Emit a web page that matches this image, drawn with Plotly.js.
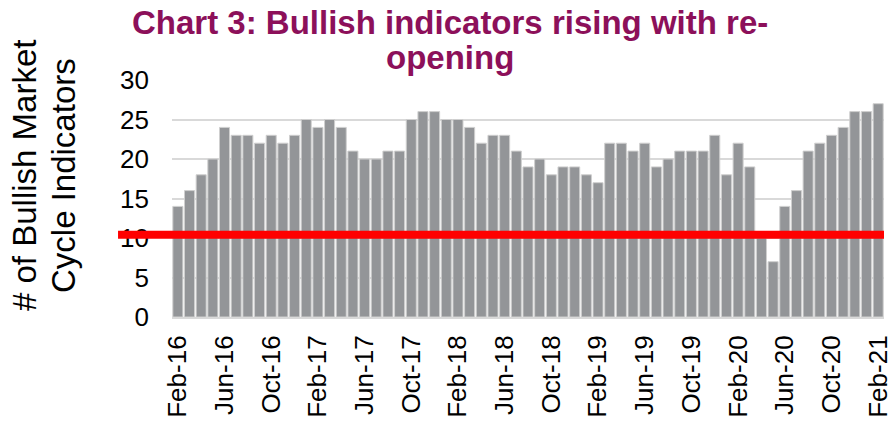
<!DOCTYPE html>
<html>
<head>
<meta charset="utf-8">
<script src="https://cdn.plot.ly/plotly-3.0.1.min.js"></script>
<style>html,body{margin:0;padding:0;background:#fff;}#chart{width:889px;height:426px;}</style>
</head>
<body>
<div id="chart"></div>
<script>
const months = [
 "Feb-16","Mar-16","Apr-16","May-16","Jun-16","Jul-16","Aug-16","Sep-16","Oct-16","Nov-16","Dec-16",
 "Jan-17","Feb-17","Mar-17","Apr-17","May-17","Jun-17","Jul-17","Aug-17","Sep-17","Oct-17","Nov-17","Dec-17",
 "Jan-18","Feb-18","Mar-18","Apr-18","May-18","Jun-18","Jul-18","Aug-18","Sep-18","Oct-18","Nov-18","Dec-18",
 "Jan-19","Feb-19","Mar-19","Apr-19","May-19","Jun-19","Jul-19","Aug-19","Sep-19","Oct-19","Nov-19","Dec-19",
 "Jan-20","Feb-20","Mar-20","Apr-20","May-20","Jun-20","Jul-20","Aug-20","Sep-20","Oct-20","Nov-20","Dec-20",
 "Jan-21","Feb-21"
];
const indicators = [
 14,16,18,20,24,23,23,22,23,22,23,
 25,24,25,24,21,20,20,21,21,25,26,26,
 25,25,24,22,23,23,21,19,20,18,19,19,
 18,17,22,22,21,22,19,20,21,21,21,23,
 18,22,19,10,7,14,16,21,22,23,24,26,
 26,27
];
const tickLabels = ["Feb-16","Jun-16","Oct-16","Feb-17","Jun-17","Oct-17","Feb-18","Jun-18","Oct-18","Feb-19","Jun-19","Oct-19","Feb-20","Jun-20","Oct-20","Feb-21"];
const yTicks = [0,5,10,15,20,25,30];
const thresholdValue = 10.4;
const titleLines = ["Chart 3: Bullish indicators rising with re-", "opening"];
const yTitleLines = ["# of Bullish Market", "Cycle Indicators"];

const font = "Liberation Sans, Arial, sans-serif";
const titleColor = "#8c105a";
const data = [{
  type: "bar",
  x: months,
  y: indicators,
  marker: {color: "#939598", line: {color: "#cfcfcf", width: 1}},
  hoverinfo: "x+y"
}];
const layout = {
  width: 889, height: 426,
  margin: {l: 172, r: 5, t: 80, b: 109},
  paper_bgcolor: "#fff", plot_bgcolor: "#fff",
  bargap: 0.14,
  showlegend: false,
  font: {family: font, color: "#000", size: 26},
  xaxis: {
    type: "category",
    tickmode: "array", tickvals: tickLabels, ticktext: tickLabels,
    tickangle: -90,
    tickfont: {family: font, size: 26, color: "#000"},
    showgrid: false,
    showline: true, linecolor: "#d9d9d9", linewidth: 2,
    ticks: "", ticklabelstandoff: 6
  },
  yaxis: {
    range: [0, 30],
    tickmode: "array", tickvals: yTicks,
    tickfont: {family: font, size: 26, color: "#000"},
    showgrid: true, gridcolor: "#d9d9d9", gridwidth: 2,
    zeroline: false, showline: false, ticks: "",
    ticklabelstandoff: 22
  },
  annotations: [
    {text: "<b>" + titleLines[0] + "</b>", xref: "paper", yref: "paper", x: 0.3904, y: 1.328,
     xanchor: "center", yanchor: "top", showarrow: false,
     font: {family: font, size: 33, color: titleColor}},
    {text: "<b>" + titleLines[1] + "</b>", xref: "paper", yref: "paper", x: 0.3904, y: 1.18,
     xanchor: "center", yanchor: "top", showarrow: false,
     font: {family: font, size: 33, color: titleColor}},
    {text: yTitleLines[0], xref: "paper", yref: "paper", x: -0.2079, y: 0.599,
     xanchor: "center", yanchor: "middle", textangle: -90, showarrow: false,
     font: {family: font, size: 33, color: "#000"}},
    {text: yTitleLines[1], xref: "paper", yref: "paper", x: -0.1531, y: 0.599,
     xanchor: "center", yanchor: "middle", textangle: -90, showarrow: false,
     font: {family: font, size: 33, color: "#000"}}
  ],
  shapes: [{
    type: "line", xref: "paper", yref: "y",
    x0: -0.0758, x1: 1, y0: thresholdValue, y1: thresholdValue,
    line: {color: "#ff0000", width: 8},
    layer: "above"
  }]
};
Plotly.newPlot("chart", data, layout, {displayModeBar: false, staticPlot: true});
</script>
</body>
</html>
